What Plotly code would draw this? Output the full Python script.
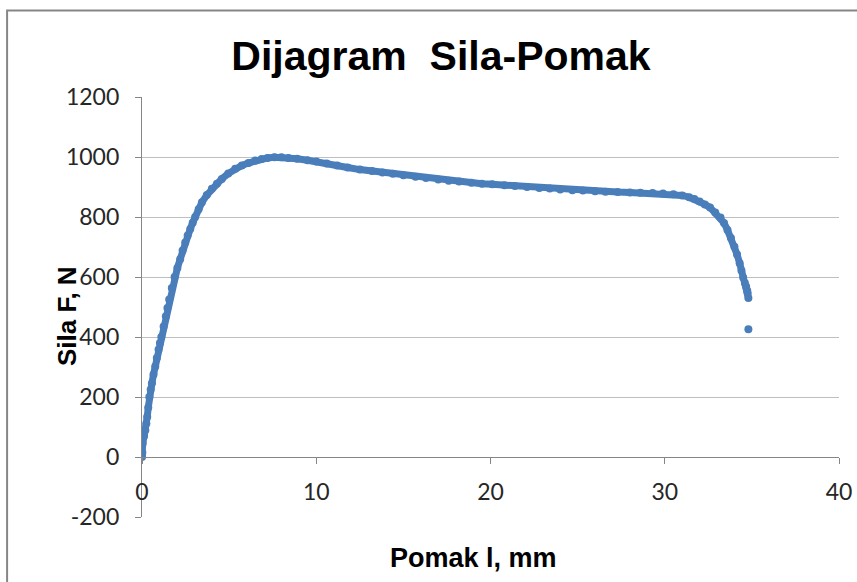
import plotly.graph_objects as go

# Values (Pomak l [mm], Sila F [N])
pomak = [0, 0, 0.02, 0.04, 0.12, 0.19, 0.25, 0.30, 0.36, 0.42, 0.50, 0.57, 0.66, 0.76,
         0.85, 0.95, 1.03, 1.11, 1.24, 1.37, 1.46, 1.56, 1.71, 1.87, 2.03, 2.19, 2.33,
         2.48, 2.62, 2.77, 2.91, 3.05, 3.25, 3.44, 3.72, 4.01, 4.30, 4.58, 4.95, 5.35,
         5.73, 6.11, 6.5, 6.87, 7.2, 7.6, 8.0, 8.4, 8.9, 9.5, 10.0, 10.6, 11.2, 11.8,
         12.5, 13.2, 13.8, 14.4, 15.0, 15.7, 16.3, 17.0, 17.6, 18.2, 18.9, 19.5, 20.1,
         20.8, 21.4, 22.1, 22.8, 23.4, 24.0, 24.7, 25.3, 26.0, 26.6, 27.3, 28.0, 28.6,
         29.3, 29.9, 30.5, 31.0, 31.4, 31.7, 32.0, 32.3, 32.6, 32.9, 33.2, 33.4, 33.6,
         33.8, 34.0, 34.15, 34.3, 34.4, 34.5, 34.6, 34.67, 34.73, 34.76, 34.8]
sila = [0, 8, 15, 45, 70, 89, 112, 134, 165, 200, 225, 246, 275, 302,
        330, 358, 380, 400, 435, 469, 497, 525, 563, 600, 630, 659, 688,
        715, 738, 760, 781, 800, 826, 849, 873, 894, 911, 927, 945, 961,
        972, 980, 988, 993, 997, 999, 999, 997, 994, 989, 985, 978, 972, 965,
        958, 953, 948, 944, 939, 934, 930, 925, 921, 918, 914, 911, 909,
        906, 903, 900, 897, 895, 892, 889, 888, 886, 884, 883, 882, 881,
        880, 878, 876, 872, 866, 860, 852, 842, 832, 815, 798, 780, 757,
        730, 701, 675, 646, 622, 598, 580, 568, 555, 546, 530]
# final (fracture) point, separated from the curve
pomak_last = [34.8]
sila_last = [426]

x_ticks = [0, 10, 20, 30, 40]
y_ticks = [-200, 0, 200, 400, 600, 800, 1000, 1200]

BLUE = "rgb(74,126,187)"
GRID = "#bfbfbf"
AXIS = "#868686"
TICKFONT = dict(family="Lato, 'Open Sans', sans-serif", size=23, color="#262626")
BOLD = "'Liberation Sans', Arial, sans-serif"

fig = go.Figure()
fig.add_trace(go.Scatter(
    x=pomak, y=sila, mode="lines+markers",
    line=dict(color=BLUE, width=7),
    marker=dict(color=BLUE, size=8),
    showlegend=False, hoverinfo="skip"))
fig.add_trace(go.Scatter(
    x=pomak_last, y=sila_last, mode="markers",
    marker=dict(color=BLUE, size=8),
    showlegend=False, hoverinfo="skip"))

L, R, T, B = 142, 17.5, 97.4, 65.4
W, H = 857, 582
pw, ph = W - L - R, H - T - B

def px_to_paper_x(px):
    return (px - L) / pw

def px_to_paper_y(py):
    return (H - B - py) / ph

fig.update_layout(
    width=W, height=H,
    margin=dict(l=L, r=R, t=T, b=B, pad=0, autoexpand=False),
    paper_bgcolor="white", plot_bgcolor="white",
    title=dict(text="Dijagram  Sila-Pomak", x=(234 + 648) / 2 / W, xanchor="center",
               y=1 - 56 / H, yanchor="middle", automargin=False,
               font=dict(family=BOLD, size=41, color="black", weight="bold")),
    xaxis=dict(range=[0, 40], tickvals=x_ticks, ticktext=[str(v) for v in x_ticks],
               showgrid=False, zeroline=False, showline=True, linecolor=AXIS, linewidth=1.3,
               ticks="outside", ticklen=6, tickcolor=AXIS, tickwidth=1.3,
               anchor="free", position=200 / 1400, ticklabelstandoff=8,
               tickfont=TICKFONT, fixedrange=True, automargin=False),
    yaxis=dict(range=[-200, 1200], tickvals=y_ticks, ticktext=[str(v) for v in y_ticks],
               showgrid=True, gridcolor=GRID, gridwidth=1.3, zeroline=False,
               showline=True, linecolor=AXIS, linewidth=1.3,
               ticks="outside", ticklen=6, tickcolor=AXIS, tickwidth=1.3,
               ticklabelstandoff=11, tickfont=TICKFONT, fixedrange=True, automargin=False),
    annotations=[
        dict(text="Sila F, N", xref="paper", yref="paper", textangle=-90,
             x=px_to_paper_x(67), y=px_to_paper_y(316), xanchor="center", yanchor="middle",
             showarrow=False, font=dict(family=BOLD, size=26, color="black", weight="bold")),
        dict(text="Pomak l, mm", xref="paper", yref="paper",
             x=px_to_paper_x(474), y=px_to_paper_y(558), xanchor="center", yanchor="middle",
             showarrow=False, font=dict(family=BOLD, size=27, color="black", weight="bold")),
    ],
    shapes=[
        dict(type="rect", xref="paper", yref="paper", layer="below",
             x0=px_to_paper_x(7), x1=px_to_paper_x(880),
             y0=px_to_paper_y(620), y1=px_to_paper_y(11),
             line=dict(color=AXIS, width=2), fillcolor="rgba(0,0,0,0)"),
    ],
)

fig.write_html("out.html", config={"displayModeBar": False},
               post_script="document.body.style.margin='0';document.body.style.overflow='hidden';")
